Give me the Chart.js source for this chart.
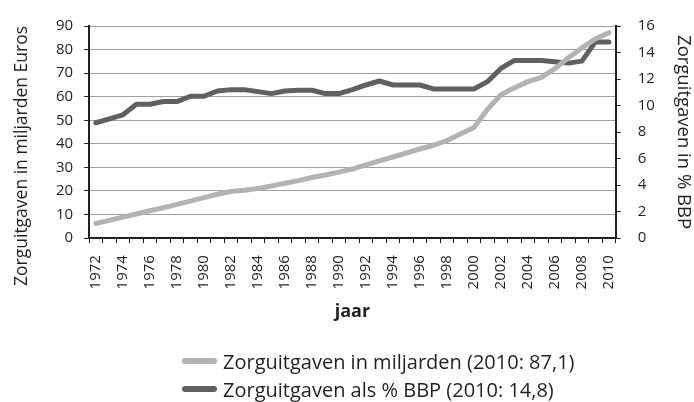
<!DOCTYPE html>
<html>
<head>
<meta charset="utf-8">
<script src="https://cdn.jsdelivr.net/npm/chart.js@4/dist/chart.umd.min.js"></script>
<style>
html,body{margin:0;padding:0;background:#fff;}
#wrap{width:694px;height:402px;position:relative;overflow:hidden;}
#legend{position:absolute;left:182px;top:347px;font-family:'Open Sans',sans-serif;font-size:20px;color:#231f20;}
#legend .row{display:flex;align-items:center;height:28px;white-space:nowrap;}
#legend .sw{display:inline-block;width:35px;height:6px;border-radius:3px;margin-right:6px;}
</style>
</head>
<body>
<div id="wrap"><canvas id="c" width="694" height="402"></canvas><div id="legend"></div></div>
<script>
const years = [1972,1973,1974,1975,1976,1977,1978,1979,1980,1981,1982,1983,1984,1985,1986,1987,1988,1989,1990,1991,1992,1993,1994,1995,1996,1997,1998,1999,2000,2001,2002,2003,2004,2005,2006,2007,2008,2009,2010];
const spendBillion = [6.2,7.5,8.9,10.2,11.6,12.9,14.3,15.7,17.2,18.6,19.8,20.3,21.0,22.1,23.3,24.4,25.7,26.8,28.0,29.3,31.1,32.8,34.4,36.1,37.8,39.4,41.4,44.2,46.9,54.6,60.8,63.8,66.4,68.2,71.9,76.5,80.7,84.6,87.1];
const spendPctGdp = [8.7,9.0,9.3,10.1,10.1,10.3,10.3,10.7,10.7,11.1,11.2,11.2,11.05,10.9,11.1,11.15,11.15,10.9,10.9,11.2,11.55,11.85,11.55,11.55,11.55,11.25,11.25,11.25,11.25,11.8,12.8,13.4,13.4,13.4,13.3,13.2,13.35,14.8,14.8];
const leftTicks = {min:0, max:90, step:10};
const rightTicks = {min:0, max:16, step:2};
const seriesNames = ['Zorguitgaven in miljarden (2010: 87,1)','Zorguitgaven als % BBP (2010: 14,8)'];

const FONT = "'Open Sans', sans-serif";
const TXT = '#231f20';

const htmlLegend = {
  id: 'htmlLegend',
  afterUpdate(chart) {
    const box = document.getElementById('legend');
    box.innerHTML = '';
    chart.data.datasets.forEach(ds => {
      const row = document.createElement('div');
      row.className = 'row';
      const sw = document.createElement('span');
      sw.className = 'sw';
      sw.style.background = ds.borderColor;
      const t = document.createElement('span');
      t.textContent = ds.label;
      row.appendChild(sw); row.appendChild(t);
      box.appendChild(row);
    });
  }
};

new Chart(document.getElementById('c'), {
  type: 'line',
  data: {
    labels: years.map(String),
    datasets: [
      {label: seriesNames[0], data: spendBillion, yAxisID: 'y', borderColor: '#b3b3b3', backgroundColor: '#b3b3b3', borderWidth: 5, pointRadius: 0, tension: 0, borderCapStyle: 'round', borderJoinStyle: 'round'},
      {label: seriesNames[1], data: spendPctGdp, yAxisID: 'y1', borderColor: '#606060', backgroundColor: '#606060', borderWidth: 5, pointRadius: 0, tension: 0, borderCapStyle: 'round', borderJoinStyle: 'round'}
    ]
  },
  plugins: [htmlLegend],
  options: {
    responsive: false,
    animation: false,
    devicePixelRatio: 1,
    layout: {padding: {left: 0, right: 0, top: 11, bottom: 79}},
    plugins: {
      tooltip: {enabled: false},
      legend: {display: false}
    },
    scales: {
      x: {
        offset: true,
        grid: {display: true, offset: true, drawOnChartArea: false, drawTicks: true, tickLength: 5, tickColor: '#231f20', tickWidth: 1},
        border: {display: true, color: '#231f20', width: 2},
        ticks: {
          autoSkip: false, maxRotation: 90, minRotation: 90, color: TXT, padding: 12,
          font: {family: FONT, size: 15},
          callback: function(v, i){ const y = years[i]; return (y % 2 === 0) ? String(y) : ''; }
        },
        title: {display: true, text: 'jaar', color: TXT, font: {family: FONT, size: 18, weight: 'bold'}, padding: {top: 0, bottom: 0}}
      },
      y: {
        position: 'left',
        min: leftTicks.min, max: leftTicks.max,
        grid: {color: '#a0a0a0', lineWidth: 1, drawTicks: true, tickLength: 5, tickColor: '#231f20'},
        border: {display: true, color: '#231f20', width: 2},
        ticks: {stepSize: leftTicks.step, color: TXT, padding: 11, font: {family: FONT, size: 15}},
        title: {display: true, text: 'Zorguitgaven in miljarden Euros', align: 'end', color: TXT, font: {family: FONT, size: 17.5}, padding: {top: 12, bottom: 12}}
      },
      y1: {
        position: 'right',
        min: rightTicks.min, max: rightTicks.max,
        grid: {drawOnChartArea: false, drawTicks: true, tickLength: 5, tickColor: '#231f20'},
        border: {display: true, color: '#231f20', width: 2},
        ticks: {stepSize: rightTicks.step, color: TXT, padding: 17, font: {family: FONT, size: 15}},
        title: {display: true, text: 'Zorguitgaven in % BBP', color: TXT, font: {family: FONT, size: 18.5}, padding: {top: 0, bottom: 0}}
      }
    }
  }
});
</script>
</body>
</html>
